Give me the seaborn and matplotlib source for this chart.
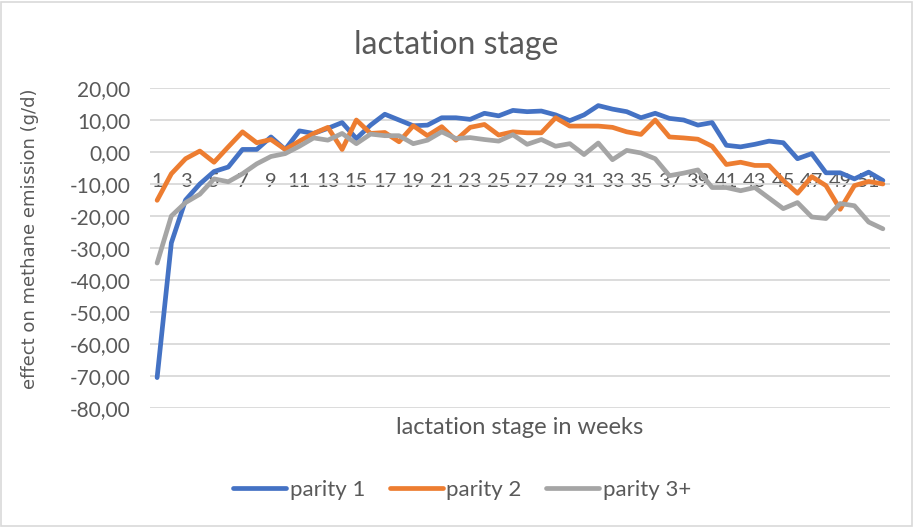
import numpy as np
import pandas as pd
import matplotlib
matplotlib.use("Agg")
import matplotlib.pyplot as plt
import seaborn as sns
from matplotlib.ticker import FuncFormatter
from matplotlib.patches import Rectangle

# --- data (effect on methane emission, g/d) ---
weeks = list(range(1, 53))

parity_1 = [-70.5, -28.4, -15.0, -10.0, -6.1, -4.7, 0.8, 0.8, 4.7, 0.8,
            6.6, 5.8, 7.4, 9.2, 4.2, 8.4, 11.8, 10.0, 8.2, 8.4,
            10.7, 10.7, 10.2, 12.1, 11.3, 13.0, 12.6, 12.8, 11.6, 9.8,
            11.6, 14.5, 13.4, 12.6, 10.7, 12.1, 10.5, 10.0, 8.4, 9.2,
            2.1, 1.6, 2.4, 3.4, 2.9, -2.1, -0.5, -6.5, -6.5, -8.4,
            -6.3, -8.9]

parity_2 = [-15.1, -6.8, -2.1, 0.3, -3.2, 1.6, 6.3, 2.9, 3.9, 0.8,
            3.4, 5.8, 7.7, 0.8, 10.0, 5.8, 6.1, 3.2, 8.2, 5.1,
            7.9, 3.7, 7.7, 8.6, 5.3, 6.3, 6.0, 6.0, 10.7, 8.1,
            8.1, 8.1, 7.7, 6.3, 5.5, 10.0, 4.7, 4.4, 4.0, 1.8,
            -3.9, -3.2, -4.2, -4.2, -8.9, -12.9, -7.7, -10.5, -17.9, -10.5,
            -9.2, -10.0]

parity_3 = [-34.7, -20.0, -15.8, -13.2, -8.4, -9.3, -6.8, -3.7, -1.4, -0.5,
            1.8, 4.4, 3.7, 5.8, 2.6, 5.6, 5.1, 5.1, 2.6, 3.7,
            6.3, 4.2, 4.5, 3.9, 3.4, 5.4, 2.4, 3.9, 1.8, 2.6,
            -0.8, 2.8, -2.4, 0.5, -0.3, -2.1, -7.4, -6.6, -5.6, -11.1,
            -11.1, -12.1, -11.1, -14.4, -17.7, -15.8, -20.3, -20.8, -16.1, -16.8,
            -21.9, -24.0]

series_names = ["parity 1", "parity 2", "parity 3+"]
colors = ["#4472C4", "#ED7D31", "#A5A5A5"]

df = pd.DataFrame({
    "week": weeks * 3,
    "effect": parity_1 + parity_2 + parity_3,
    "parity": [n for n in series_names for _ in weeks],
})

# --- style ---
sns.set_style("white")
plt.rcParams["font.family"] = ["Lato", "DejaVu Sans"]
text_col = "#595959"
grid_col = "#D9D9D9"

fig = plt.figure(figsize=(9.13, 5.27), dpi=100)
ax = fig.add_axes([150 / 913, 1 - 408 / 527, 740 / 913, 320 / 527])

sns.lineplot(data=df, x="week", y="effect", hue="parity", hue_order=series_names,
             palette=colors, linewidth=3.4, ax=ax, legend=True)

ax.set_xlim(0.5, 52.5)
ax.set_ylim(-80, 20)
ax.set_yticks(np.arange(-80, 21, 10))
ax.yaxis.set_major_formatter(FuncFormatter(lambda v, p: f"{v:.2f}".replace(".", ",")))
ax.grid(axis="y", color=grid_col, linewidth=1.3)
ax.set_axisbelow(True)
for sp in ax.spines.values():
    sp.set_visible(False)

# category labels sit on the -10 line, like the original sheet
ax.set_xticks(weeks[::2])
ax.set_xticklabels([str(w) for w in weeks[::2]])
ax.spines["bottom"].set_position(("data", -10))
ax.tick_params(axis="x", length=0, pad=-8, labelsize=14.5, labelcolor=text_col)
ax.tick_params(axis="y", length=0, pad=14, labelsize=15, labelcolor=text_col)

ax.set_xlabel("lactation stage in weeks", fontsize=17, color=text_col)
ax.xaxis.set_label_coords(0.5, -0.06)
ax.xaxis.label.set_va("center")
ax.set_ylabel("effect on methane emission (g/d)", fontsize=13, color=text_col,
              family=["DejaVu Sans"])
ax.yaxis.set_label_coords(-0.162, 0.53)
ax.yaxis.label.set_va("center")

fig.text(456 / 913, 1 - 45 / 527, "lactation stage", ha="center", va="center",
         fontsize=23, color=text_col)

ax.legend_.remove()
handles, labels = ax.get_legend_handles_labels()
fig.legend(handles, labels, loc="center", bbox_to_anchor=(462 / 913, 1 - 490 / 527),
           ncol=3, frameon=False, fontsize=16, handlelength=2.4, handletextpad=0.15,
           columnspacing=1.1, labelcolor=text_col)

fig.patches.append(Rectangle((0.001, 0.001), 0.998, 0.996, transform=fig.transFigure,
                             fill=False, edgecolor=grid_col, linewidth=1.2))

fig.savefig("out.png", dpi=100, facecolor="white")
